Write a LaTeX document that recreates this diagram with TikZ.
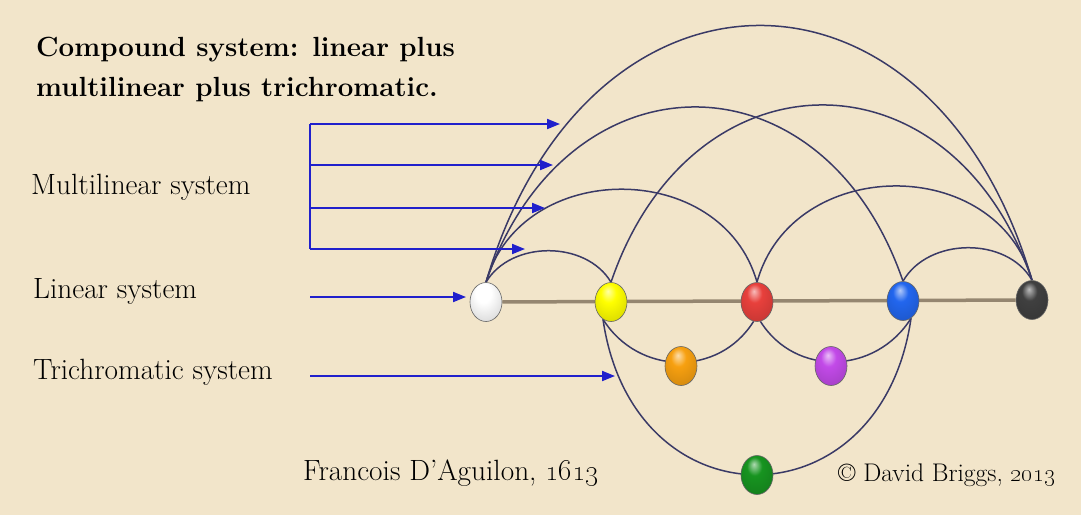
\documentclass[tikz,border=0pt]{standalone}
\usepackage{tikz}
\usetikzlibrary{arrows.meta,shapes.geometric,backgrounds}
\definecolor{parchment}{HTML}{F2E5CA}
\definecolor{arcnavy}{HTML}{3A3A66}
\definecolor{pointerblue}{HTML}{2020CC}
\definecolor{rodgray}{HTML}{958670}
\definecolor{ballred}{HTML}{E8403C}
\definecolor{ballblue}{HTML}{2266EE}
\definecolor{ballorange}{HTML}{F7A010}
\definecolor{ballpurple}{HTML}{C24AE8}
\definecolor{ballgreen}{HTML}{179420}
\makeatletter
\pgfdeclareradialshading[tikz@ball]{glossy}{\pgfqpoint{-5bp}{14bp}}{color(0bp)=(tikz@ball!35!white); color(12bp)=(tikz@ball); color(30bp)=(tikz@ball!88!black); color(44bp)=(tikz@ball!62!black); color(60bp)=(tikz@ball!35!black)}
\makeatother
\begin{document}
\begin{tikzpicture}[
  x=1pt,y=-1pt,
  ball/.style={ellipse,minimum width=32pt,minimum height=39pt,inner sep=0pt,draw=black!60,line width=0.6pt,ball color=#1,shading=glossy},
  arcline/.style={draw=arcnavy,line width=1.5pt},
  pointer/.style={draw=pointerblue,line width=2pt,-{Triangle[length=13pt,width=10pt]}},
  lbl/.style={inner sep=0pt,anchor=base west,font=\fontsize{29.3}{34}\selectfont}
]
\useasboundingbox (0,0) rectangle (1081,515);
% balls on the line and below it
\node[ball=white] (white) at (486,302) {};
\node[ball=yellow] (yellow) at (611,302) {};
\node[ball=ballred] (red) at (757,302) {};
\node[ball=ballblue] (blue) at (903,301) {};
\node[ball=black!75] (black) at (1032,300) {};
\node[ball=ballorange] (orange) at (681,366) {};
\node[ball=ballpurple] (purple) at (831,366) {};
\node[ball=ballgreen] (green) at (757,475) {};
\begin{scope}[on background layer]
\fill[parchment] (0,0) rectangle (1081,515);
\draw[draw=rodgray,line width=3.5pt] (white) -- (black);
% multilinear arcs
\draw[arcline] (white.north) .. controls +(25,-42) and +(-25,-42) .. (yellow.north);
\draw[arcline] (white.north) .. controls +(35,-124) and +(-35,-124) .. (red.north);
\draw[arcline] (white.north) .. controls +(80,-233) and +(-80,-233) .. (blue.north);
\draw[arcline] (white.north) .. controls +(100,-341) and +(-100,-341) .. (black.north);
\draw[arcline] (yellow.north) .. controls +(80,-235) and +(-80,-235) .. (black.north);
\draw[arcline] (red.north) .. controls +(35,-127) and +(-35,-127) .. (black.north);
\draw[arcline] (blue.north) .. controls +(25,-44) and +(-25,-44) .. (black.north);
% trichromatic arcs
\draw[arcline] (yellow.-115) .. controls +(35,56) and +(-35,56) .. (red.-100);
\draw[arcline] (red.-80) .. controls +(35,56) and +(-35,56) .. (blue.-65);
\draw[arcline] (yellow.-115) .. controls +(30,208) and +(-30,208) .. (blue.-65);
\end{scope}
% pointers
\foreach \y/\tx [count=\i] in {124/560,165/553,208/545,249/525} {\coordinate (m\i) at (310,\y); \coordinate (mt\i) at (\tx,\y); \draw[pointer] (m\i) -- (mt\i);}
\draw[draw=pointerblue,line width=2pt] (m1) -- (m4);
\coordinate (lin) at (310,297);
\coordinate (lintip) at (466,297);
\draw[pointer] (lin) -- (lintip);
\coordinate (tri) at (310,376);
\coordinate (tritip) at (615,376);
\draw[pointer] (tri) -- (tritip);
% texts
\node[inner sep=0pt,anchor=north west,align=left,font=\bfseries\fontsize{27.7}{40}\selectfont] (title) at (36,37) {Compound system: linear plus\\multilinear plus trichromatic.};
\node[lbl] (multi) at (31,194) {Multilinear system};
\node[lbl] (linear) at (33,298) {Linear system};
\node[lbl] (trichro) at (33,379) {Trichromatic system};
\node[lbl] (credit) at (303,480) {Francois D'Aguilon, \oldstylenums{1613}};
\node[lbl,font=\fontsize{25.5}{30}\selectfont] (copyr) at (838,481) {\textcopyright{} David Briggs, \oldstylenums{2013}};
\end{tikzpicture}
\end{document}
